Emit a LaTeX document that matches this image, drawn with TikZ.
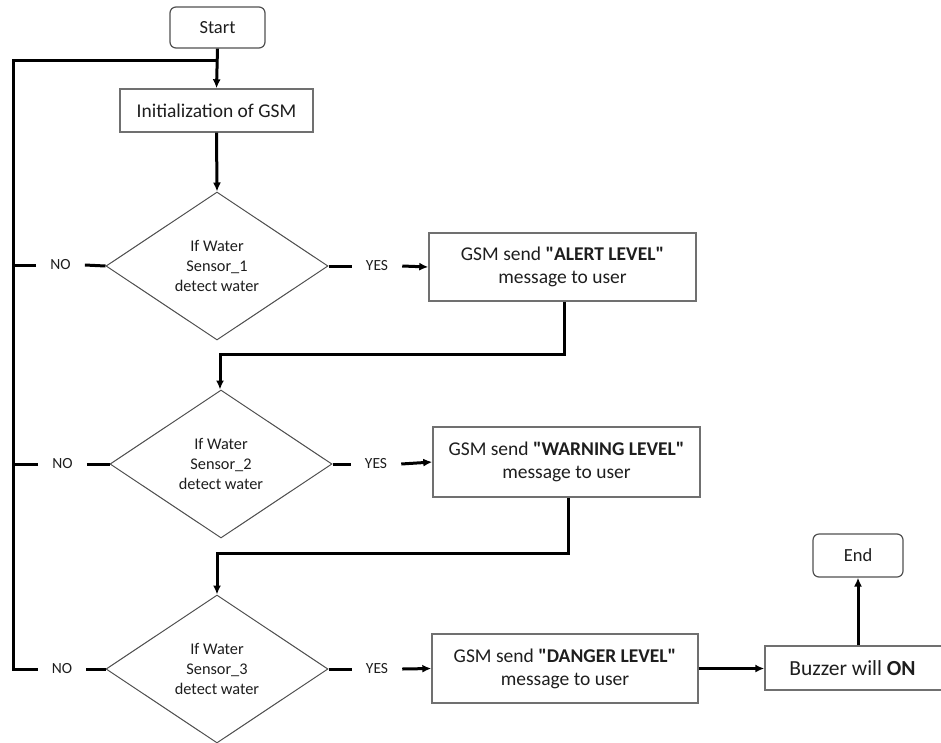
\documentclass[tikz,border=0pt]{standalone}
\usepackage{fontspec}
\setmainfont{Carlito}[Ligatures=TeXOff]
\usetikzlibrary{shapes.geometric,arrows.meta,calc}
\definecolor{boxline}{RGB}{112,112,112}
\definecolor{dline}{RGB}{80,80,80}
\definecolor{txt}{RGB}{30,30,30}
\tikzset{
  term/.style={draw=dline,line width=1.2pt,rounded corners=6pt,inner sep=0pt,text=txt,font=\fontsize{18.5}{22}\selectfont},
  proc/.style={draw=boxline,line width=1.4pt,inner sep=0pt,align=center,text=txt,font=\fontsize{19.5}{23}\selectfont},
  dec/.style={draw=dline,line width=1pt,shape=diamond,aspect=1.5,inner sep=0pt,minimum width=222pt,minimum height=148pt,align=center,text=txt,font=\fontsize{16.3}{20}\selectfont},
  lab/.style={inner xsep=14pt,inner ysep=0pt,text=txt,font=\fontsize{15.5}{18}\selectfont},
  conn/.style={line width=3pt,black},
  arr/.style={conn,-{Latex[length=9pt,width=8pt]}}
}
\begin{document}
\begin{tikzpicture}[x=1pt,y=-1pt]
\useasboundingbox (0,0) rectangle (941,742);
\fill[white] (0,0) rectangle (941,742);
% nodes
\node[term,minimum width=95pt,minimum height=41pt] (start) at (217.5,27.5) {Start};
\node[proc,minimum width=193pt,minimum height=43pt,font=\fontsize{19.5}{23}\selectfont] (init) at (216.5,110.5) {Initialization of GSM};
\node[dec] (d1) at (217,266) {If Water\\Sensor\_1\\detect water};
\node[dec] (d2) at (221,464) {If Water\\Sensor\_2\\detect water};
\node[dec] (d3) at (217,669) {If Water\\Sensor\_3\\detect water};
\node[proc,minimum width=267pt,minimum height=68pt] (b1) at (562.5,267) {GSM send \textbf{"ALERT LEVEL"}\\message to user};
\node[proc,minimum width=267pt,minimum height=70pt] (b2) at (566.5,462) {GSM send \textbf{"WARNING LEVEL"}\\message to user};
\node[proc,minimum width=266pt,minimum height=69pt] (b3) at (565,668.5) {GSM send \textbf{"DANGER LEVEL"}\\message to user};
\node[proc,minimum width=185pt,minimum height=44pt,font=\fontsize{21.5}{25}\selectfont] (buz) at (857.5,668) {Buzzer will \textbf{ON}\hspace*{10pt}};
\node[term,minimum width=90pt,minimum height=43pt] (end) at (858,555.5) {End};
% labels
\node[lab] (no1) at (60.5,265) {NO};
\node[lab] (no2) at (62.5,464) {NO};
\node[lab] (no3) at (62,669) {NO};
\node[lab] (yes1) at (377,266) {YES};
\node[lab] (yes2) at (376,464) {YES};
\node[lab] (yes3) at (377,669) {YES};
% helper coordinates
\coordinate (top) at (217,60);
\coordinate (lt) at (13,60);
\coordinate (e1) at (0,354);
\coordinate (e2) at (0,553);
% connectors
\draw[arr] (start.south) -- (init.north);
\draw[conn] (no3.west) -| (lt) -- (top);
\draw[conn] (no1.west) -- (no1.west -| lt);
\draw[conn] (no2.west) -- (no2.west -| lt);
\draw[conn] (no1.east) -- (d1.west);
\draw[conn] (no2.east) -- (d2.west);
\draw[conn] (no3.east) -- (d3.west);
\draw[arr] (init.south) -- (d1.north);
\draw[conn] (d1.east) -- (yes1.west);
\draw[conn] (d2.east) -- (yes2.west);
\draw[conn] (d3.east) -- (yes3.west);
\draw[arr] (yes1.east) -- (b1.west);
\draw[arr] (yes2.east) -- (b2.west);
\draw[arr] (yes3.east) -- (b3.west);
\draw[arr] ([xshift=1.5pt]b1.south) -- ([xshift=1.5pt]b1.south |- e1) -| ([xshift=-1pt]d2.north);
\draw[arr] ([xshift=1.5pt]b2.south) -- ([xshift=1.5pt]b2.south |- e2) -| (d3.north);
\draw[arr] (b3.east) -- (b3.east -| buz.west);
\draw[arr] (buz.north -| end.south) -- (end.south);
\end{tikzpicture}
\end{document}
